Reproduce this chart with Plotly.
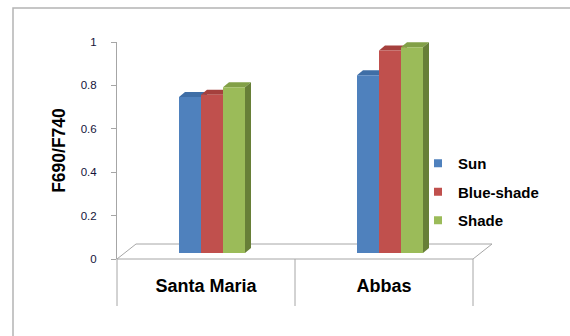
import plotly.graph_objects as go

categories = ["Santa Maria", "Abbas"]
series_names = ["Sun", "Blue-shade", "Shade"]
sun = [0.72, 0.82]
blue_shade = [0.73, 0.935]
shade = [0.765, 0.95]
y_ticks = [0, 0.2, 0.4, 0.6, 0.8, 1]
y_title = "F690/F740"

values = [sun, blue_shade, shade]
front = ["#4F81BD", "#C0504D", "#9BBB59"]
top = ["#3F6EA6", "#A5403D", "#82A047"]
side = ["#385D8A", "#8C3836", "#677F37"]

W, H = 570, 336
L, R, T, B = 117, 97, 42, 77
PW, PH = W - L - R, H - T - B          # 356 x 217
DEPTH_X, DEPTH_Y = 19, 15               # floor depth (px)
BAR_DX, BAR_DY = 6, 5                   # bar depth (px)
BAR_SHIFT = 6                           # bars sit mid-depth
BAR_LIFT = 6
Y_SCALE = 216.7                         # px per unit on the bar axis
GROUP = 66 / 178                        # group width as fraction of category

n = len(categories)
cat_px = PW / n
xs = list(range(n))

fig = go.Figure()

for i, (name, vals) in enumerate(zip(series_names, values)):
    fig.add_trace(go.Bar(
        x=xs, y=vals, name=name, xaxis="x2", yaxis="y2",
        marker=dict(color=front[i], line=dict(width=0)),
        showlegend=False, hoverinfo="skip",
    ))
    fig.add_trace(go.Scatter(
        x=[None], y=[None], name=name, mode="markers", legendgroup=name,
        marker=dict(symbol="square", size=8, color=front[i]),
        showlegend=True,
    ))

# 3D faces derived from the data
w = GROUP / len(series_names)
w_px = w * cat_px
shapes = []
for i, vals in enumerate(values):
    for c, v in enumerate(vals):
        left = c - GROUP / 2 + i * w
        h_px = v * Y_SCALE
        shapes.append(dict(
            type="path", xref="x2", yref="y2", layer="below",
            xsizemode="pixel", ysizemode="pixel", xanchor=left, yanchor=v,
            path=f"M0,0 L{w_px},0 L{w_px+BAR_DX},{BAR_DY} L{BAR_DX},{BAR_DY} Z",
            fillcolor=top[i], line=dict(width=0),
        ))
        shapes.append(dict(
            type="path", xref="x2", yref="y2", layer="below",
            xsizemode="pixel", ysizemode="pixel", xanchor=left + w, yanchor=v,
            path=f"M0,0 L{BAR_DX},{BAR_DY} L{BAR_DX},{BAR_DY - h_px} L0,{-h_px} Z",
            fillcolor=side[i], line=dict(width=0),
        ))

gray = "#A6A6A6"
px2x = lambda p: (p - L) / PW
px2y = lambda p: (H - B - p) / PH
# floor
shapes.append(dict(
    type="path", xref="paper", yref="paper", layer="below",
    path=(f"M{px2x(L)},{px2y(H-B)} L{px2x(L+PW)},{px2y(H-B)} "
          f"L{px2x(L+PW+DEPTH_X)},{px2y(H-B-DEPTH_Y)} L{px2x(L+DEPTH_X)},{px2y(H-B-DEPTH_Y)} Z"),
    fillcolor="white", line=dict(color=gray, width=1),
))
# category dividers
for k in range(n + 1):
    shapes.append(dict(
        type="line", xref="paper", yref="paper", layer="below",
        x0=k / n, x1=k / n, y0=0, y1=px2y(306),
        line=dict(color=gray, width=1),
    ))
# chart border
shapes.append(dict(
    type="rect", xref="paper", yref="paper", layer="below",
    x0=px2x(13), x1=px2x(W + 20), y0=px2y(8), y1=px2y(H + 20),
    line=dict(color="#B4B4B4", width=1.5), fillcolor="rgba(0,0,0,0)",
))

font_b = "Liberation Sans, Arial, sans-serif"
fig.update_layout(
    width=W, height=H,
    margin=dict(l=L, r=R, t=T, b=B, pad=0, autoexpand=False),
    paper_bgcolor="white", plot_bgcolor="rgba(0,0,0,0)",
    barmode="group", bargap=1 - GROUP, bargroupgap=0,
    shapes=shapes,
    showlegend=True,
    legend=dict(
        xref="container", yref="container",
        x=418 / W, y=1 - 147 / H, xanchor="left", yanchor="top",
        font=dict(family=font_b, size=15, color="black", weight="bold"),
        itemwidth=30, tracegroupgap=6, bgcolor="rgba(0,0,0,0)",
    ),
    xaxis=dict(
        type="category", range=[-0.5, n - 0.5], domain=[0, 1],
        tickvals=categories, ticktext=categories,
        showline=False, showgrid=False, zeroline=False, ticks="",
        tickfont=dict(family=font_b, size=18, color="black", weight="bold"),
        ticklabelstandoff=14, fixedrange=True, automargin=False,
    ),
    yaxis=dict(
        range=[0, 1], domain=[0, 1], tickvals=y_ticks,
        ticktext=[f"{t:g}" for t in y_ticks],
        showline=True, linecolor=gray, linewidth=1,
        ticks="outside", ticklen=5, tickcolor=gray,
        showgrid=False, zeroline=False,
        tickfont=dict(family=font_b, size=11.5, color="#14143a"),
        ticklabelstandoff=12, automargin=False,
        title=dict(text=y_title, standoff=10,
                   font=dict(family=font_b, size=17.5, color="black", weight="bold")),
        fixedrange=True,
    ),
    xaxis2=dict(
        anchor="y2", domain=[0, 1],
        range=[-0.5 - BAR_SHIFT / cat_px, n - 0.5 - BAR_SHIFT / cat_px],
        visible=False, fixedrange=True,
    ),
    yaxis2=dict(
        anchor="x2", domain=[BAR_LIFT / PH, 1],
        range=[0, (PH - BAR_LIFT) / Y_SCALE],
        visible=False, fixedrange=True,
    ),
)
fig.add_trace(go.Bar(x=categories, y=[None] * n, xaxis="x", yaxis="y",
                     showlegend=False, hoverinfo="skip"))

fig.write_html("out.html")
